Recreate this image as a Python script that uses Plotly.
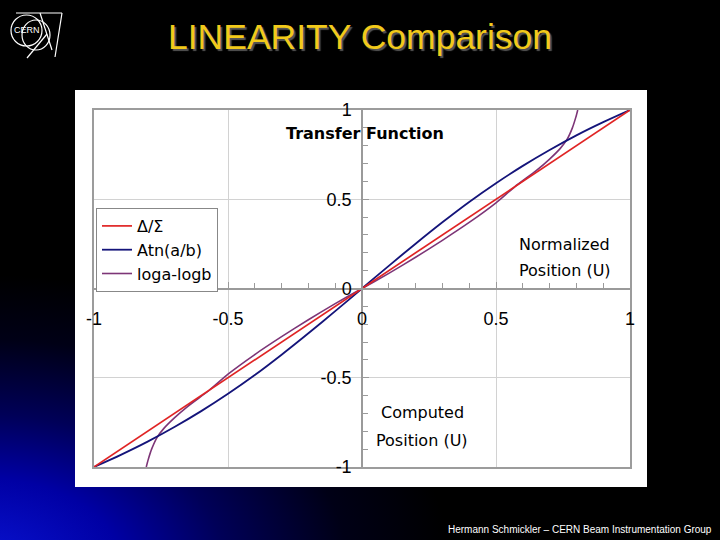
import base64
import plotly.graph_objects as go

# ---------------- data ----------------
series_names = ["\u0394/\u03a3", "Atn(a/b)", "loga-logb"]

u_lin = [-1.0, -0.5, 0.0, 0.5, 1.0]
v_lin = [-1.0, -0.5, 0.0, 0.5, 1.0]

u_atn = [-1.0, -0.9, -0.8, -0.7, -0.6, -0.5, -0.4, -0.3, -0.2, -0.1, 0.0,
         0.1, 0.2, 0.3, 0.4, 0.5, 0.6, 0.7, 0.8, 0.9, 1.0]
v_atn = [-1.0, -0.932, -0.858, -0.776, -0.687, -0.590, -0.485, -0.371, -0.251, -0.127, 0.0,
         0.127, 0.251, 0.371, 0.485, 0.590, 0.687, 0.776, 0.858, 0.932, 1.0]

u_log = [-0.805, -0.798, -0.785, -0.765, -0.74, -0.70, -0.65, -0.57, -0.50, -0.40, -0.30, -0.20, -0.10, 0.0,
         0.10, 0.20, 0.30, 0.40, 0.50, 0.57, 0.65, 0.70, 0.74, 0.765, 0.785, 0.798, 0.805]
v_log = [-1.0, -0.96, -0.90, -0.835, -0.785, -0.725, -0.66, -0.57, -0.48, -0.37, -0.27, -0.175, -0.085, 0.0,
         0.085, 0.175, 0.27, 0.37, 0.48, 0.57, 0.66, 0.725, 0.785, 0.835, 0.90, 0.96, 1.0]

tick_vals = [-1.0, -0.5, 0.0, 0.5, 1.0]
tick_text = ["-1", "-0.5", "0", "0.5", "1"]

# ---------------- geometry helpers ----------------
W, H = 720, 540
L, R, T, B = 94, 90, 110, 73
PW, PH = W - L - R, H - T - B


def px(x):
    return (x - L) / PW


def py(y):
    return (H - B - y) / PH


SANS = "Liberation Sans, Arial, sans-serif"
TXT = "DejaVu Sans, sans-serif"

fig = go.Figure()

fig.add_trace(go.Scatter(x=u_log, y=v_log, mode="lines", name=series_names[2], legendrank=3,
                         line=dict(color="#7d3577", width=1.6, shape="spline", smoothing=0.6)))
fig.add_trace(go.Scatter(x=u_atn, y=v_atn, mode="lines", name=series_names[1], legendrank=2,
                         line=dict(color="#14147a", width=1.8, shape="spline", smoothing=0.8)))
fig.add_trace(go.Scatter(x=u_lin, y=v_lin, mode="lines", name=series_names[0], legendrank=1,
                         xaxis="x2", yaxis="y2",
                         line=dict(color="#e02424", width=1.7)))

# background gradient as inline SVG
svg = (
    "<svg xmlns='http://www.w3.org/2000/svg' width='720' height='540' viewBox='0 0 720 540'>"
    "<defs><radialGradient id='g' gradientUnits='userSpaceOnUse' cx='0' cy='0' r='1' "
    "gradientTransform='translate(-20,565) scale(470,290)'>"
    "<stop offset='0' stop-color='#0a14d4'/>"
    "<stop offset='0.3' stop-color='#0000a4'/>"
    "<stop offset='0.52' stop-color='#000058'/>"
    "<stop offset='0.78' stop-color='#000016'/>"
    "<stop offset='1' stop-color='#000000'/>"
    "</radialGradient></defs>"
    "<rect width='720' height='540' fill='#000'/>"
    "<rect width='720' height='540' fill='url(#g)'/>"
    "</svg>"
)
src = "data:image/svg+xml;base64," + base64.b64encode(svg.encode()).decode()

shapes = [
    # white panel
    dict(type="rect", xref="paper", yref="paper", x0=px(75), x1=px(647), y0=py(487), y1=py(90),
         fillcolor="white", line=dict(width=0), layer="below"),
]
# CERN logo (decoration)
wl = dict(color="white", width=1.2)
shapes += [
    dict(type="circle", xref="paper", yref="paper", x0=px(11), x1=px(42), y0=py(46), y1=py(15), line=wl),
    dict(type="circle", xref="paper", yref="paper", x0=px(22), x1=px(50), y0=py(50), y1=py(20), line=wl),
    dict(type="line", xref="paper", yref="paper", x0=px(16), x1=px(62), y0=py(13), y1=py(13), line=wl),
    dict(type="line", xref="paper", yref="paper", x0=px(62), x1=px(55), y0=py(13), y1=py(57), line=wl),
    dict(type="line", xref="paper", yref="paper", x0=px(27), x1=px(47), y0=py(58), y1=py(34), line=wl),
    dict(type="line", xref="paper", yref="paper", x0=px(40), x1=px(52), y0=py(13), y1=py(50), line=wl),
]

annotations = [
    dict(text="CERN", xref="paper", yref="paper", x=px(27), y=py(30), xanchor="center", yanchor="middle",
         showarrow=False, font=dict(family=SANS, size=9, color="white")),
    dict(text="LINEARITY Comparison", xref="paper", yref="paper", x=px(360), y=py(37),
         xanchor="center", yanchor="middle", showarrow=False,
         font=dict(family=SANS, size=35.5, color="#f2ca1a", shadow="2px 2px 1px #555555")),
    dict(text="Hermann Schmickler \u2013 CERN Beam Instrumentation Group", xref="paper", yref="paper",
         x=px(714), y=py(529), xanchor="right", yanchor="middle", showarrow=False,
         font=dict(family=SANS, size=10, color="white")),
    dict(text="<b>Transfer Function</b>", xref="x", yref="y", x=0.011, y=0.871, showarrow=False,
         font=dict(family=TXT, size=16, color="black")),
    dict(text="Normalized", xref="x", yref="y", x=0.757, y=0.249, showarrow=False,
         font=dict(family=TXT, size=16, color="black")),
    dict(text="Position (U)", xref="x", yref="y", x=0.757, y=0.103, showarrow=False,
         font=dict(family=TXT, size=16, color="black")),
    dict(text="Computed", xref="x", yref="y", x=0.224, y=-0.697, showarrow=False,
         font=dict(family=TXT, size=16, color="black")),
    dict(text="Position (U)", xref="x", yref="y", x=0.224, y=-0.849, showarrow=False,
         font=dict(family=TXT, size=16, color="black")),
]

frame_axis = dict(range=[-1, 1], tickmode="array", tickvals=[-0.5, 0.5], showticklabels=False,
                  ticks="", showgrid=True, gridcolor="#d2d2d2", gridwidth=1, zeroline=False,
                  showline=True, mirror=True, linecolor="#9c9c9c", linewidth=2, fixedrange=True)

cross_common = dict(range=[-1, 1], anchor="free", position=0.5, tickmode="array",
                    tickvals=tick_vals, ticktext=tick_text, ticks="inside", ticklen=6,
                    tickcolor="#9a9a9a", tickwidth=1, showline=True, linecolor="#9a9a9a",
                    linewidth=1.5, showgrid=False, zeroline=False, fixedrange=True,
                    tickfont=dict(family=SANS, size=18, color="black"),
                    minor=dict(tickmode="linear", tick0=0, dtick=0.1, ticks="inside", ticklen=5,
                               tickcolor="#9a9a9a", showgrid=False))

fig.update_layout(
    width=W, height=H,
    margin=dict(l=L, r=R, t=T, b=B, pad=0),
    paper_bgcolor="black",
    plot_bgcolor="white",
    xaxis=frame_axis,
    yaxis=frame_axis,
    xaxis2=dict(overlaying="x", side="bottom", ticklabelstandoff=14, **cross_common),
    yaxis2=dict(overlaying="y", side="left", ticklabelstandoff=6, **cross_common),
    showlegend=True,
    legend=dict(x=px(96), y=py(208), xanchor="left", yanchor="top", bgcolor="white",
                bordercolor="#888888", borderwidth=1, font=dict(family=TXT, size=16, color="black"),
                itemwidth=30, tracegroupgap=0),
    images=[dict(source=src, xref="paper", yref="paper", x=px(0), y=py(0), sizex=W / PW, sizey=H / PH,
                 xanchor="left", yanchor="top", sizing="stretch", layer="below")],
    shapes=shapes,
    annotations=annotations,
)

fig.write_html("out.html")
